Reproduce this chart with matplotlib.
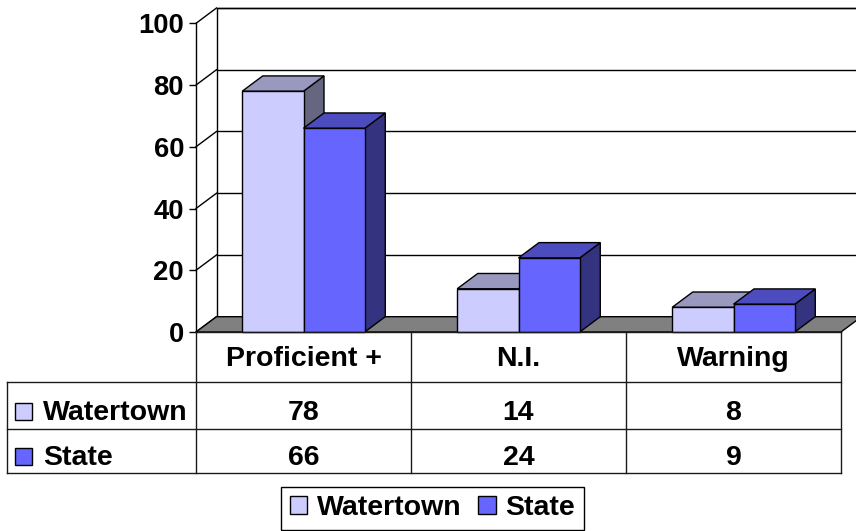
import matplotlib
matplotlib.use("Agg")
import matplotlib.pyplot as plt
from matplotlib.patches import Polygon, Rectangle, Patch

# chart data
categories = ["Proficient +", "N.I.", "Warning"]
series = ["Watertown", "State"]
watertown = [78, 14, 8]
state = [66, 24, 9]
yticks = [0, 20, 40, 60, 80, 100]

front_colors = ["#CCCCFF", "#6666FF"]
top_colors = ["#9999C0", "#4C4CBF"]
side_colors = ["#666680", "#333380"]

plt.rcParams["font.family"] = ["Liberation Sans", "DejaVu Sans"]
plt.rcParams["font.weight"] = "bold"

W, H = 856, 531
fig = plt.figure(figsize=(W / 100, H / 100), dpi=100)

# front plane of the 3-D plot area
ax = fig.add_axes([196 / W, (H - 332) / H, 645 / W, 308.7 / H])
ax.set_xlim(0, len(categories))
ax.set_ylim(0, 100)
ax.patch.set_visible(False)
for s in ["top", "right", "bottom"]:
    ax.spines[s].set_visible(False)
ax.spines["left"].set_linewidth(1)
ax.set_xticks([])
ax.set_yticks(yticks)
ax.set_yticklabels([str(t) for t in yticks], fontsize=19.8, fontweight="bold")
ax.tick_params(axis="y", length=5, width=1, pad=3.6)

# depth of the box, in data units
dx = 20.5 / 215
dy = 15.3 / 3.087
n = len(categories)

# back wall and grid
ax.add_patch(Rectangle((dx, dy), n, 100, facecolor="white", edgecolor="black",
                       lw=1, clip_on=False, zorder=1))
for v in yticks:
    ax.plot([0, dx], [v, v + dy], color="black", lw=1, clip_on=False, zorder=1.5)
    ax.plot([dx, n + dx], [v + dy, v + dy], color="black", lw=1, clip_on=False, zorder=1.5)

# floor
ax.add_patch(Polygon([(0, 0), (n, 0), (n + dx, dy), (dx, dy)], closed=True,
                     facecolor="#808080", edgecolor="black", lw=1, clip_on=False, zorder=2))


def draw_box(x0, w, h, k, z):
    side = [(x0 + w, 0), (x0 + w + dx, dy), (x0 + w + dx, h + dy), (x0 + w, h)]
    top = [(x0, h), (x0 + w, h), (x0 + w + dx, h + dy), (x0 + dx, h + dy)]
    ax.add_patch(Polygon(side, closed=True, facecolor=side_colors[k], edgecolor="black",
                         lw=1, clip_on=False, zorder=z))
    ax.add_patch(Polygon(top, closed=True, facecolor=top_colors[k], edgecolor="black",
                         lw=1, clip_on=False, zorder=z))
    ax.add_patch(Rectangle((x0, 0), w, h, facecolor=front_colors[k], edgecolor="black",
                           lw=1, clip_on=False, zorder=z + 0.1))


bar_w = 0.285
z = 3
for i in range(n):
    for k, vals in enumerate([watertown, state]):
        x0 = i + 0.5 - bar_w + k * bar_w
        draw_box(x0, bar_w, vals[i], k, z)
        z += 1

# data table (pixel overlay)
tab = fig.add_axes([0, 0, 1, 1])
tab.set_xlim(0, W)
tab.set_ylim(H, 0)
tab.axis("off")
tab.patch.set_visible(False)

col_x = [196 + 215 * c for c in range(n + 1)]
row_y = [332, 382, 429, 473]
left_x = 7
lc = "#1a1a1a"
for cx in col_x:
    tab.plot([cx, cx], [row_y[0], row_y[-1]], color=lc, lw=1)
tab.plot([left_x, left_x], [row_y[1], row_y[-1]], color=lc, lw=1)
tab.plot([col_x[0], col_x[-1]], [row_y[0], row_y[0]], color=lc, lw=1)
for ry in row_y[1:]:
    tab.plot([left_x, col_x[-1]], [ry, ry], color=lc, lw=1)

fs = 20.5
for c, cat in enumerate(categories):
    cx = (col_x[c] + col_x[c + 1]) / 2
    tab.text(cx, 366.5, cat, ha="center", va="baseline", fontsize=fs, fontweight="bold")

baselines = [420.5, 465]
for r, (name, vals) in enumerate(zip(series, [watertown, state])):
    by = baselines[r]
    tab.add_patch(Rectangle((15, by - 17.5), 17, 17, facecolor=front_colors[r],
                            edgecolor="black", lw=1))
    tab.text(43, by, name, ha="left", va="baseline", fontsize=fs, fontweight="bold")
    for c, v in enumerate(vals):
        cx = (col_x[c] + col_x[c + 1]) / 2
        tab.text(cx, by, str(v), ha="center", va="baseline", fontsize=fs, fontweight="bold")

# legend
handles = [Patch(facecolor=front_colors[k], edgecolor="black", lw=1) for k in range(2)]
leg = fig.legend(handles, series, loc="lower center", bbox_to_anchor=(432.5 / W, 1 / H),
                 ncol=2, prop={"size": fs, "weight": "bold"}, handlelength=0.6,
                 handleheight=0.6, handletextpad=0.35, columnspacing=0.6,
                 borderpad=0.3, borderaxespad=0, fancybox=False, framealpha=1)
leg.get_frame().set_edgecolor("black")
leg.get_frame().set_linewidth(1)

fig.savefig("out.png", dpi=100)
